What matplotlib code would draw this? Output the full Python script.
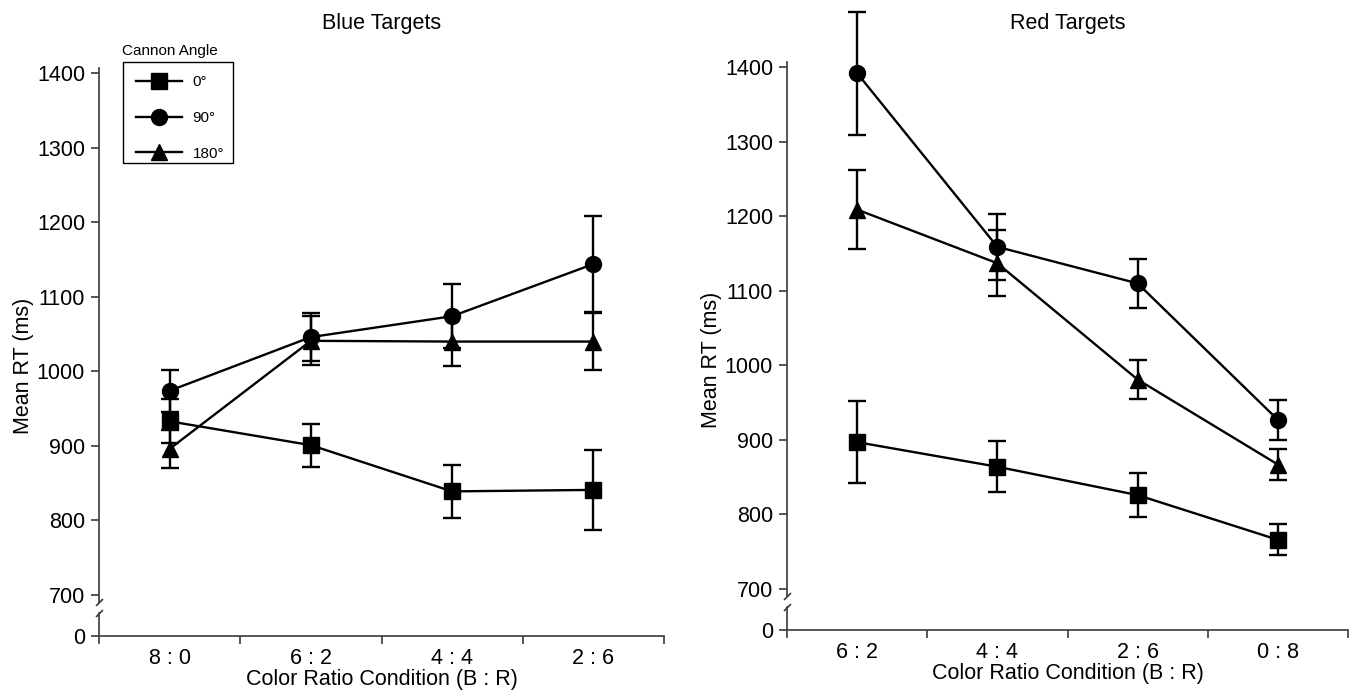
import matplotlib
matplotlib.use('Agg')
import matplotlib.pyplot as plt
from matplotlib.transforms import blended_transform_factory
from matplotlib.patches import Rectangle

plt.rcParams['font.family'] = ['Liberation Sans', 'DejaVu Sans']

# ---------------- data ----------------
categories_blue = ['8 : 0', '6 : 2', '4 : 4', '2 : 6']
categories_red = ['6 : 2', '4 : 4', '2 : 6', '0 : 8']
angle_labels = ['0°', '90°', '180°']

blue_0 = [933, 901, 839, 841]
blue_0_err = [29.5, 29, 36, 54]
blue_90 = [974, 1046, 1074, 1144]
blue_90_err = [28, 32, 43, 65]
blue_180 = [896, 1041, 1040, 1040]
blue_180_err = [25, 33, 33, 38.5]

red_0 = [897, 864, 826, 766]
red_0_err = [55, 34.5, 29, 21]
red_90 = [1392, 1159, 1110, 927]
red_90_err = [82.5, 44, 33, 26.5]
red_180 = [1209, 1137, 981, 867]
red_180_err = [53, 44, 25.7, 21]

y_ticks = [700, 800, 900, 1000, 1100, 1200, 1300, 1400]
y_tick_labels = ['700', '800', '900', '1000', '1100', '1200', '1300', '1400']

# ---------------- style ----------------
Y_ZERO = 645        # display position of the "0" of the broken axis
Y_TOP = 1407
BREAK_HI = 691
BREAK_LO = 676
AX_COLOR = '#3a3a3a'
FS = 15.5

markers = ['s', 'o', '^']
msizes = [11.5, 11.5, 11.5]

fig = plt.figure(figsize=(13.54, 6.92), dpi=100)
W, H = 1354, 692
ax1 = fig.add_axes([99 / W, 56 / H, 565 / W, 568 / H])
ax2 = fig.add_axes([787 / W, 62 / H, 561 / W, 568 / H])


def panel(ax, cats, series, errs, title):
    xs = list(range(len(cats)))
    handles = []
    for vals, err, m, ms, lab in zip(series, errs, markers, msizes, angle_labels):
        c = ax.errorbar(xs, vals, yerr=err, color='black', lw=1.7, marker=m, ms=ms,
                        capsize=6.5, capthick=1.7, elinewidth=1.7, label=lab, zorder=3)
        for art in c.get_children():
            art.set_clip_on(False)
        handles.append(c.lines[0])
    ax.set_xlim(-0.5, len(cats) - 0.5)
    ax.set_ylim(Y_ZERO, Y_TOP)
    ax.set_xticks(xs)
    ax.set_xticklabels(cats, fontsize=FS)
    ax.set_xticks([i + 0.5 for i in xs], minor=True)
    ax.tick_params(axis='x', which='major', length=0, pad=9)
    ax.tick_params(axis='x', which='minor', length=6, width=1.2, color=AX_COLOR, direction='out')
    ax.set_yticks([Y_ZERO] + y_ticks)
    ax.set_yticklabels(['0'] + y_tick_labels, fontsize=FS)
    ax.tick_params(axis='y', length=6, width=1.2, color=AX_COLOR, direction='out', pad=4)
    for s in ['top', 'right', 'left']:
        ax.spines[s].set_visible(False)
    ax.spines['bottom'].set_color(AX_COLOR)
    ax.spines['bottom'].set_linewidth(1.2)
    tr = blended_transform_factory(ax.transAxes, ax.transData)
    ax.plot([0, 0], [BREAK_HI, Y_TOP], transform=tr, color=AX_COLOR, lw=1.2, clip_on=False)
    ax.plot([0, 0], [Y_ZERO - 9, BREAK_LO], transform=tr, color=AX_COLOR, lw=1.2, clip_on=False)
    ax.plot([0, 0], [BREAK_HI, BREAK_LO], transform=tr, linestyle='none',
            marker=[(-1, -1), (1, 1)], ms=5, mew=1.2, mec=AX_COLOR, clip_on=False)
    ax.set_xlabel('Color Ratio Condition (B : R)', fontsize=FS, labelpad=0)
    ax.set_ylabel('Mean RT (ms)', fontsize=FS)
    ax.yaxis.set_label_coords(-0.115, 0.475)
    pos = ax.get_position()
    fig.text(pos.x0 + pos.width / 2, 1 - 29.5 / H, title, fontsize=FS, ha='center', va='baseline')
    return handles


h = panel(ax1, categories_blue, [blue_0, blue_90, blue_180],
          [blue_0_err, blue_90_err, blue_180_err], 'Blue Targets')
panel(ax2, categories_red, [red_0, red_90, red_180],
      [red_0_err, red_90_err, red_180_err], 'Red Targets')

ax1.legend(handles=h, labels=angle_labels, loc='upper left', bbox_to_anchor=(0.0655, 0.987),
           frameon=False, fontsize=11, handlelength=3.0, handletextpad=0.7,
           labelspacing=1.42, borderpad=0, borderaxespad=0)
ax1.add_patch(Rectangle((0.042, 0.8333), 0.1952, 0.1778, transform=ax1.transAxes,
                        fill=False, lw=1.0, edgecolor='black', clip_on=False))
ax1.text(0.0405, 1.03, 'Cannon Angle', transform=ax1.transAxes, fontsize=11,
         ha='left', va='center')

fig.savefig('out.png', dpi=100)
